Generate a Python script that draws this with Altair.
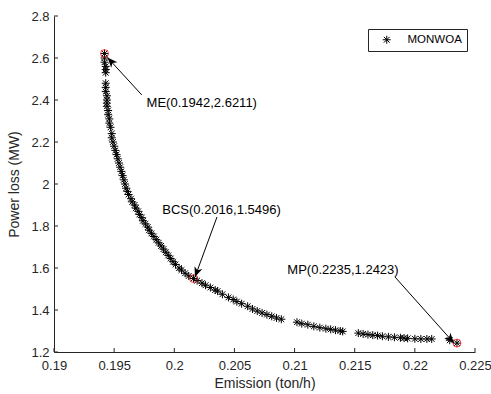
import math
import altair as alt
import pandas as pd

# ---------------- data ----------------
series_name = "MONWOA"

emission = [
    0.1942, 0.1942, 0.1942, 0.1943, 0.1943, 0.1943,
    0.1943, 0.1943, 0.1943, 0.1944, 0.1944, 0.1944, 0.1944, 0.1945, 0.1945,
    0.1946, 0.1946, 0.1947, 0.1948, 0.1948, 0.1949, 0.1950, 0.1951, 0.1952,
    0.1953, 0.1954, 0.1955, 0.1956, 0.1957, 0.1958, 0.1959, 0.1960, 0.1961,
    0.1962, 0.1964, 0.1965, 0.1967, 0.1968, 0.1970, 0.1971, 0.1973, 0.1974,
    0.1976, 0.1978, 0.1979, 0.1981, 0.1983, 0.1985, 0.1987, 0.1989, 0.1991,
    0.1993, 0.1995, 0.1997, 0.1999, 0.2001, 0.2004, 0.2006, 0.2009, 0.2012,
    0.2016, 0.2019, 0.2023, 0.2026, 0.2030, 0.2034, 0.2036, 0.2040, 0.2045,
    0.2049, 0.2052, 0.2056, 0.2061, 0.2065, 0.2069, 0.2073, 0.2077, 0.2081,
    0.2085, 0.2089,
    0.2102, 0.2106, 0.2111, 0.2116, 0.2121, 0.2126, 0.2130, 0.2134, 0.2138,
    0.2140,
    0.2153, 0.2157, 0.2161, 0.2165, 0.2169, 0.2173, 0.2178, 0.2183, 0.2188,
    0.2191, 0.2194, 0.2200, 0.2205, 0.2210, 0.2214,
    0.2229, 0.2235,
]
power_loss = [
    2.6211, 2.600, 2.580, 2.560, 2.545, 2.530,
    2.480, 2.460, 2.440, 2.420, 2.400, 2.385, 2.370, 2.350, 2.330,
    2.310, 2.290, 2.270, 2.240, 2.220, 2.200, 2.180, 2.160, 2.140,
    2.120, 2.100, 2.080, 2.060, 2.040, 2.020, 2.000, 1.980, 1.965,
    1.950, 1.930, 1.915, 1.900, 1.885, 1.870, 1.855, 1.840, 1.825,
    1.810, 1.795, 1.780, 1.765, 1.750, 1.735, 1.720, 1.705, 1.690,
    1.675, 1.660, 1.645, 1.630, 1.617, 1.600, 1.590, 1.575, 1.562,
    1.5496, 1.540, 1.528, 1.518, 1.507, 1.495, 1.490, 1.475, 1.460,
    1.450, 1.440, 1.430, 1.418, 1.405, 1.395, 1.386, 1.378, 1.370,
    1.362, 1.356,
    1.342, 1.335, 1.330, 1.322, 1.316, 1.311, 1.308, 1.304, 1.300,
    1.298,
    1.290, 1.286, 1.283, 1.280, 1.278, 1.275, 1.272, 1.270, 1.268,
    1.266, 1.265, 1.263, 1.262, 1.262, 1.262,
    1.256, 1.2423,
]

x_ticks = [0.19, 0.195, 0.2, 0.205, 0.21, 0.215, 0.22, 0.225]
y_ticks = [1.2, 1.4, 1.6, 1.8, 2.0, 2.2, 2.4, 2.6, 2.8]

special_names = ["ME", "BCS", "MP"]
special_x = [0.1942, 0.2016, 0.2235]
special_y = [2.6211, 1.5496, 1.2423]

ann_text_x = [0.1977, 0.1990, 0.2094]
ann_text_y = [2.386, 1.876, 1.5905]
arrow_start_x = [0.1973, 0.20355, 0.21835]
arrow_start_y = [2.424, 1.843, 1.557]
arrow_tip_x = [0.19445, 0.20172, 0.22325]
arrow_tip_y = [2.602, 1.557, 1.2429]

# ---------------- layout / style ----------------
W, H = 421, 336
X_DOM = [0.19, 0.225]
Y_DOM = [1.2, 2.8]
AX = "#262626"
FONT = "Liberation Sans"
X_TITLE = "Emission (ton/h)"
Y_TITLE = "Power loss (MW)"
ASTERISK = ("M-1,0L1,0M0,-1L0,1M-0.72,-0.72L0.72,0.72M-0.72,0.72L0.72,-0.72")
ARROWHEAD = "M0,0L0.75,1.8L0,1.3L-0.75,1.8Z"

xs = alt.Scale(domain=X_DOM, nice=False, zero=False)
ys = alt.Scale(domain=Y_DOM, nice=False, zero=False)
x_axis = alt.Axis(values=x_ticks, format="~g")
y_axis = alt.Axis(values=y_ticks, format="~g")


def xenc(field):
    return alt.X(f"{field}:Q", scale=xs, title=X_TITLE, axis=x_axis)


def yenc(field):
    return alt.Y(f"{field}:Q", scale=ys, title=Y_TITLE, axis=y_axis)


pts = pd.DataFrame({"x": emission, "y": power_loss, "series": series_name})


def angle_of(x0, y0, x1, y1):
    dx = (x1 - x0) * W / (X_DOM[1] - X_DOM[0])
    dy = -(y1 - y0) * H / (Y_DOM[1] - Y_DOM[0])
    return math.degrees(math.atan2(dx, -dy)) % 360


ann = pd.DataFrame({
    "label": [f"{n}({a},{b})" for n, a, b in zip(special_names, special_x, special_y)],
    "tx": ann_text_x, "ty": ann_text_y,
    "sx": arrow_start_x, "sy": arrow_start_y,
    "ex": arrow_tip_x, "ey": arrow_tip_y,
    "angle": [angle_of(a, b, c, d) for a, b, c, d in
              zip(arrow_start_x, arrow_start_y, arrow_tip_x, arrow_tip_y)],
})
spec = pd.DataFrame({"x": special_x, "y": special_y})
xt = pd.DataFrame({"x": x_ticks})
yt = pd.DataFrame({"y": y_ticks})

scatter = alt.Chart(pts).mark_point(filled=False, size=64, strokeWidth=1, opacity=1).encode(
    x=xenc("x"), y=yenc("y"),
    color=alt.Color("series:N", scale=alt.Scale(domain=[series_name], range=["black"]),
                    legend=alt.Legend(title=None)),
    shape=alt.Shape("series:N", scale=alt.Scale(domain=[series_name], range=[ASTERISK]),
                    legend=alt.Legend(title=None)),
)

circles = alt.Chart(spec).mark_point(shape="circle", filled=False, size=64,
                                      stroke="red", strokeWidth=1).encode(
    x=xenc("x"), y=yenc("y"))

lines = alt.Chart(ann).mark_rule(color="black", strokeWidth=1).encode(
    x=xenc("sx"), y=yenc("sy"), x2="ex:Q", y2="ey:Q")

heads = alt.Chart(ann).mark_point(shape=ARROWHEAD, filled=True, size=124,
                                  color="black", opacity=1, strokeWidth=0).encode(
    x=xenc("ex"), y=yenc("ey"), angle=alt.Angle("angle:Q", scale=None))

texts = alt.Chart(ann).mark_text(align="left", baseline="middle", font=FONT,
                                 fontSize=13, color="black").encode(
    x=xenc("tx"), y=yenc("ty"), text="label:N")

xtick = alt.Chart(xt).mark_rule(color=AX, strokeWidth=1).encode(
    x=xenc("x"), y=alt.value(H), y2=alt.value(H - 4))
ytick = alt.Chart(yt).mark_rule(color=AX, strokeWidth=1).encode(
    y=yenc("y"), x=alt.value(0), x2=alt.value(4))

chart = alt.layer(scatter, circles, lines, heads, texts, xtick, ytick).properties(
    width=W, height=H,
    padding={"left": 54, "top": 16, "right": 16, "bottom": 42},
    autosize=alt.AutoSizeParams(type="none"),
    background="white",
).configure_view(stroke=None).configure_axis(
    grid=False, ticks=False, domainColor=AX, domainWidth=1,
    labelColor=AX, labelFont=FONT, labelFontSize=13, labelFlush=False,
    labelOverlap=False, titleColor=AX, titleFont=FONT, titleFontSize=14,
    titleFontWeight="normal",
).configure_axisX(labelPadding=7, titlePadding=4).configure_axisY(
    labelPadding=5, titlePadding=9
).configure_legend(
    orient="none", legendX=314, legendY=13, padding=5, strokeColor=AX,
    fillColor="white", labelFont=FONT, labelFontSize=11.5, labelColor="black",
    symbolStrokeWidth=1, symbolSize=64, symbolOffset=8, labelOffset=15,
)

chart.save("out.html", embed_options={"renderer": "svg", "actions": False})
